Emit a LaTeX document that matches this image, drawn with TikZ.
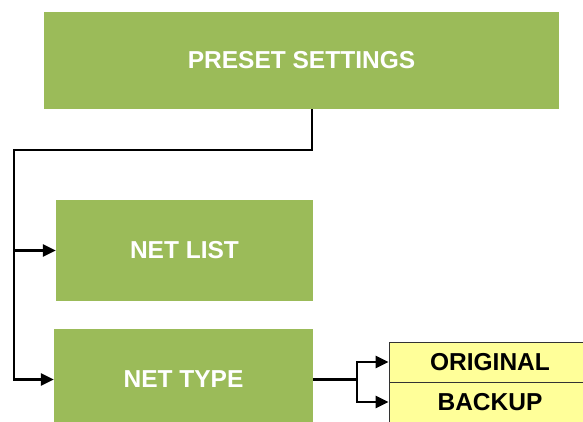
\documentclass[tikz,border=0pt]{standalone}
\usepackage{fontspec}
\setmainfont{Liberation Sans}
\usepackage{xcolor}
\usetikzlibrary{arrows.meta}
\definecolor{setgreen}{HTML}{9BBB59}
\definecolor{typeyellow}{HTML}{FFFF99}

\begin{document}
\begin{tikzpicture}[x=1pt, y=-1pt,
  block/.style={fill=setgreen, text=white, inner sep=0pt,
    font=\fontsize{24.5}{29}\selectfont\bfseries},
  variant/.style={draw=black!80, line width=0.8pt, fill=typeyellow,
    minimum width=202pt, minimum height=40pt, inner sep=0pt,
    font=\fontsize{24.5}{29}\selectfont\bfseries},
  wire/.style={line width=2.6pt},
  flow/.style={wire, -{Triangle[length=13pt, width=12pt]}}]
\clip (0,0) rectangle (583,421);
\node[block, minimum width=515pt, minimum height=97pt] (preset) at (301.5,60.5) {PRESET SETTINGS};
\node[block, minimum width=257pt, minimum height=101pt] (netlist) at (184.5,250.5) {NET LIST};
\node[block, minimum width=259pt, minimum height=101pt] (nettype) at (183.5,379.5) {NET TYPE};
\node[variant] (original) at (490,362) {ORIGINAL};
\node[variant] (backup) at (490,402) {BACKUP};
\coordinate (bend) at (14,150);
\coordinate (split) at (357,379.5);
\draw[flow] ([xshift=10.5pt]preset.south) |- (bend) |- (netlist.west);
\draw[flow] (bend) |- (nettype.west);
\draw[wire] (nettype.east) -- (split);
\draw[flow] (split) |- (original.west);
\draw[flow] (split) |- (backup.west);
\end{tikzpicture}
\end{document}
